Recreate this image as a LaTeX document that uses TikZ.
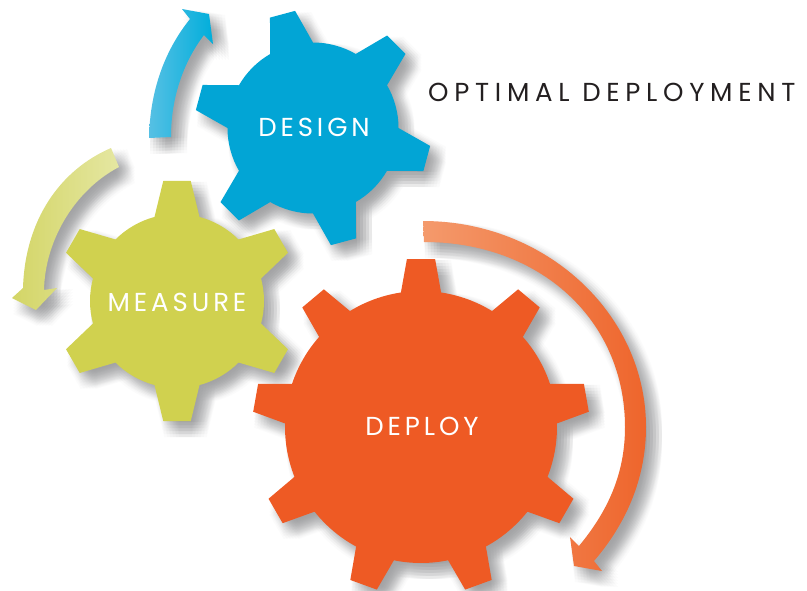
\documentclass[tikz,border=0pt]{standalone}
\usepackage{fontspec}
\newfontfamily\labelfont[LetterSpace=15]{Poppins}
\newfontfamily\titlefont[LetterSpace=22]{Poppins}
\definecolor{gearblue}{HTML}{02A5D5}
\definecolor{gearyellow}{HTML}{D0D14F}
\definecolor{gearorange}{HTML}{EE5A24}
\definecolor{shadowgray}{HTML}{6D6E71}
\definecolor{titleblack}{HTML}{231F20}
\definecolor{arrowblueA}{HTML}{56C0E4}
\definecolor{arrowblueB}{HTML}{00AEDB}
\definecolor{arrowyellowA}{HTML}{D3D566}
\definecolor{arrowyellowB}{HTML}{E5E7A2}
\definecolor{arroworangeA}{HTML}{F49A6C}
\definecolor{arroworangeB}{HTML}{EE652C}

% first tooth angle, tooth spacing, body radius, tip radius, half base, half tip
\newcommand{\gearpath}[6]{
  ({#1+#5}:#3pt)
  \foreach \k in {1,...,\numexpr360/#2\relax}{
    -- ({#1-(\k-1)*#2+#6}:#4pt)
    -- ({#1-(\k-1)*#2-#6}:#4pt)
    -- ({#1-(\k-1)*#2-#5}:#3pt)
    arc[start angle={#1-(\k-1)*#2-#5}, delta angle={-(#2-2*#5)}, radius=#3pt]
  } -- cycle
}
% stacked copies make the blur
\newcommand{\softshadow}[1]{
  \foreach \dx in {1,4,...,16}{
    \foreach \dy in {1,4,...,16}{
      \fill[softlayer, shift={(\dx,-\dy)}] #1;
    }
  }
}
\newcommand{\bluearrow}{
  (149,-138) .. controls (150,-90) and (165,-50) .. (190,-19)
  -- (182,-9) -- (209,-14) -- (213,-44) -- (204,-35)
  .. controls (185,-60) and (171,-95) .. (171,-137) -- cycle
}
\newcommand{\yellowarrow}{
  (111,-148) .. controls (60,-170) and (25,-220) .. (23,-288)
  -- (12,-298) -- (36,-310) -- (57,-288) -- (44,-290)
  .. controls (45,-240) and (75,-190) .. (119,-167) -- cycle
}
\newcommand{\orangearrow}{
  (423,-221) .. controls (546,-221) and (646,-314) .. (646,-427)
  .. controls (646,-480) and (625,-525) .. (594,-561)
  -- (602,-571) -- (574,-566) -- (570,-537) -- (579,-546)
  .. controls (607,-512) and (625,-475) .. (625,-427)
  .. controls (625,-320) and (540,-242) .. (424,-242) -- cycle
}

\begin{document}
\begin{tikzpicture}[
    x=1pt, y=1pt,
    softlayer/.style={
        fill=shadowgray,
        opacity=0.027
    },
    gearlabel/.style={
        text=white,
        inner sep=0pt,
        font=\labelfont\fontsize{26}{26}\selectfont
    }
]
\useasboundingbox (0,-590) rectangle (807,0);

% arrows
\softshadow{\bluearrow}
\softshadow{\yellowarrow}
\softshadow{\orangearrow}
\shade[left color=arrowblueA, right color=arrowblueB] \bluearrow;
\shade[left color=arrowyellowA, right color=arrowyellowB] \yellowarrow;
\shade[left color=arroworangeA, right color=arroworangeB] \orangearrow;

% gears
\begin{scope}[shift={(313,-128)}]
\softshadow{\gearpath{105}{60}{85.5}{118.5}{15}{6.3}}
\fill[gearblue] \gearpath{105}{60}{85.5}{118.5}{15}{6.3};
\end{scope}
\begin{scope}[shift={(177,-301)}]
\softshadow{\gearpath{90}{60}{87}{121}{15}{6.5}}
\fill[gearyellow] \gearpath{90}{60}{87}{121}{15}{6.5};
\end{scope}
\begin{scope}[shift={(421,-427)}]
\softshadow{\gearpath{90}{40}{136}{168.5}{8.5}{4.8}}
\fill[gearorange] \gearpath{90}{40}{136}{168.5}{8.5}{4.8};
\end{scope}

\node[gearlabel] (design) at (314,-127) {DESIGN};
\node[gearlabel] (measure) at (177,-302) {MEASURE};
\node[gearlabel] (deploy) at (422,-426) {DEPLOY};
\node[gearlabel, text=titleblack, anchor=west, font=\titlefont\fontsize{26}{26}\selectfont] (title) at (428,-92) {OPTIMAL DEPLOYMENT};

\end{tikzpicture}
\end{document}
